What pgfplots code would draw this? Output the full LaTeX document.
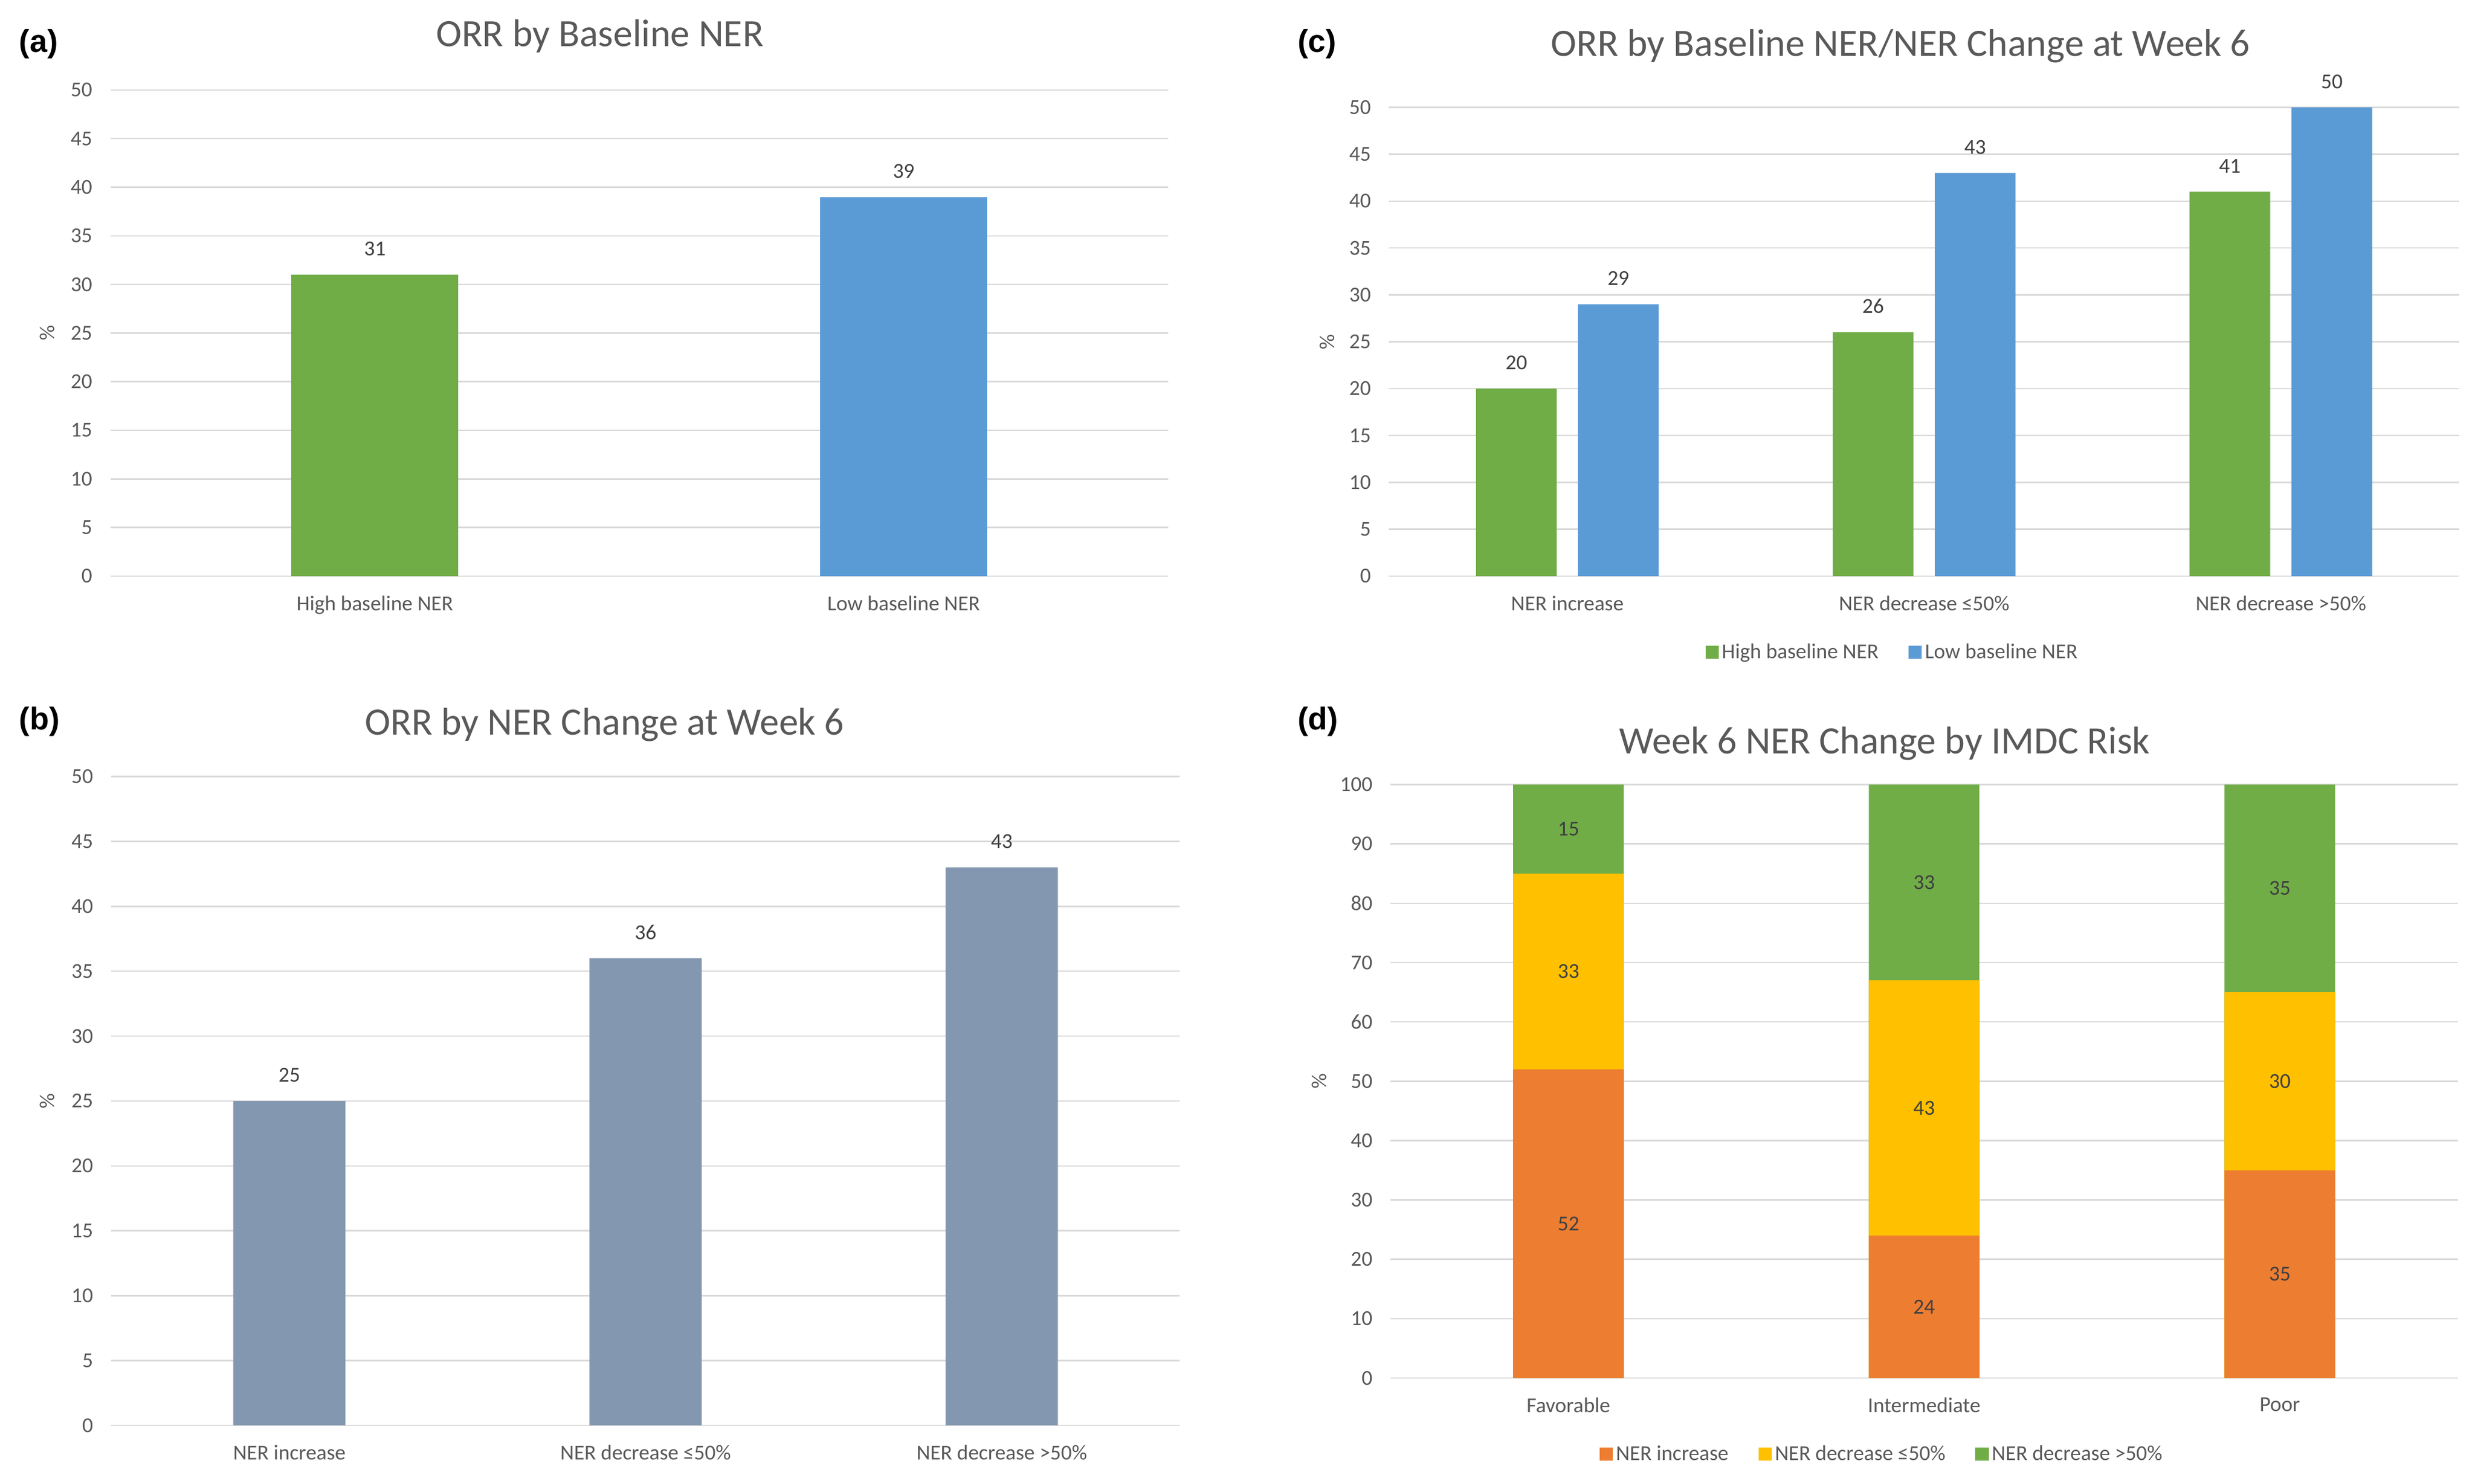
\documentclass[border=0pt]{standalone}
\usepackage{fontspec}
\setmainfont{Carlito}
\newfontfamily\letterfont{Liberation Sans}
\usepackage{pgfplots}
\pgfplotsset{compat=1.18}

\definecolor{cgreen}{HTML}{70AD47}
\definecolor{cblue}{HTML}{5B9BD5}
\definecolor{corange}{HTML}{ED7D31}
\definecolor{cyellow}{HTML}{FFC000}
\definecolor{cslate}{HTML}{8497B0}
\definecolor{gridgray}{HTML}{D9D9D9}
\definecolor{txtgray}{HTML}{595959}
\definecolor{lblgray}{HTML}{404040}

\newcommand\ticksize{\fontsize{13.5}{16}\selectfont}
\newcommand\titlesize{\fontsize{24.5}{29}\selectfont}

\pgfplotsset{
  panel/.style={
    scale only axis,
    anchor=south west,
    axis line style={draw=none},
    major tick length=0pt,
    ymajorgrids,
    grid style={draw=gridgray, line width=0.9pt},
    ymin=0,
    tick label style={font=\ticksize, text=txtgray},
    xticklabel style={yshift=-9pt},
    yticklabel style={xshift=-8pt},
    /pgf/number format/assume math mode=true,
    clip=false,
    ylabel={\%},
    ylabel style={font=\ticksize, text=txtgray, anchor=center},
  },
  vals/.style={
    nodes near coords,
    every node near coord/.append style={font=\ticksize, text=lblgray, anchor=base, yshift=12pt},
  },
  sq/.style={legend image code/.code={\fill[#1] (0pt,-4pt) rectangle (8pt,4pt);}},
  panellegend/.style={
    legend style={draw=none, fill=none, legend columns=-1, font=\ticksize, text=txtgray,
      /tikz/every even column/.append style={column sep=17pt}},
  },
}

\begin{document}
\begin{tikzpicture}[x=1pt,y=1pt]
\path[use as bounding box] (0,0) rectangle (1568,940);

% (a) ORR by baseline NER
\begin{axis}[panel, at={(70pt,575pt)}, width=670pt, height=308pt,
  ybar, bar width=0.316, ymax=50, ytick={0,5,...,50},
  xmin=-0.5, xmax=1.5, xtick={0,1},
  xticklabels={High baseline NER, Low baseline NER},
  ylabel style={at={(axis description cs:-0.06,0.5)}}]
\addplot[vals, fill=cgreen, draw=none, bar shift=0] coordinates {(0,31)};
\addplot[vals, fill=cblue, draw=none, bar shift=0] coordinates {(1,39)};
\end{axis}

% (b) ORR by NER change at week 6
\begin{axis}[panel, at={(70.5pt,37pt)}, width=677pt, height=411pt,
  ybar, bar width=0.315, ymax=50, ytick={0,5,...,50},
  xmin=-0.5, xmax=2.5, xtick={0,1,2},
  xticklabels={NER increase, NER decrease ≤50\%, NER decrease >50\%},
  ylabel style={at={(axis description cs:-0.06,0.5)}}]
\addplot[vals, fill=cslate, draw=none, bar shift=0] coordinates {(0,25)(1,36)(2,43)};
\end{axis}

% (c) ORR by baseline NER / NER change at week 6
\begin{axis}[panel, panellegend, at={(880pt,575pt)}, width=678pt, height=297pt,
  ybar, bar width=0.226, ymax=50, ytick={0,5,...,50},
  xmin=-0.5, xmax=2.5, xtick={0,1,2},
  xticklabels={NER increase, NER decrease ≤50\%, NER decrease >50\%},
  ylabel style={at={(axis description cs:-0.058,0.5)}},
  legend style={at={(axis description cs:0.471,-0.162)}, anchor=center}]
\addplot[vals, fill=cgreen, draw=none, bar shift=-0.143, forget plot] coordinates {(0,20)(1,26)(2,41)};
\addplot[vals, fill=cblue, draw=none, bar shift=0.143, forget plot] coordinates {(0,29)(1,43)(2,50)};
\addlegendimage{sq=cgreen}
\addlegendentry{High baseline NER}
\addlegendimage{sq=cblue}
\addlegendentry{Low baseline NER}
\end{axis}

% (d) Week 6 NER change by IMDC risk
\begin{axis}[panel, panellegend, at={(881pt,67pt)}, width=676pt, height=376pt,
  ymax=100, ytick={0,10,...,100},
  xmin=-0.5, xmax=2.5, xtick={0,1,2},
  xticklabels={Favorable, Intermediate, Poor},
  ylabel style={at={(axis description cs:-0.067,0.5)}},
  legend style={at={(axis description cs:0.461,-0.128)}, anchor=center}]
% stacked tops: increase, +decrease <=50%, +decrease >50%
\addplot[ybar, bar width=0.311, bar shift=0, fill=cgreen, draw=none, forget plot] coordinates {(0,100)(1,100)(2,100)};
\addplot[ybar, bar width=0.311, bar shift=0, fill=cyellow, draw=none, forget plot] coordinates {(0,85)(1,67)(2,65)};
\addplot[ybar, bar width=0.311, bar shift=0, fill=corange, draw=none, forget plot] coordinates {(0,52)(1,24)(2,35)};
\addplot[only marks, mark=none, forget plot, point meta=explicit symbolic, nodes near coords,
  every node near coord/.append style={font=\ticksize, text=lblgray, anchor=center}]
  coordinates {(0,26)[52] (0,68.5)[33] (0,92.5)[15]
               (1,12)[24] (1,45.5)[43] (1,83.5)[33]
               (2,17.5)[35] (2,50)[30] (2,82.5)[35]};
\addlegendimage{sq=corange}
\addlegendentry{NER increase}
\addlegendimage{sq=cyellow}
\addlegendentry{NER decrease ≤50\%}
\addlegendimage{sq=cgreen}
\addlegendentry{NER decrease >50\%}
\end{axis}

% titles and panel letters
\node[font=\titlesize, text=txtgray] at (380,917) {ORR by Baseline NER};
\node[font=\titlesize, text=txtgray] at (383,481) {ORR by NER Change at Week 6};
\node[font=\titlesize, text=txtgray] at (1204,911) {ORR by Baseline NER/NER Change at Week 6};
\node[font=\titlesize, text=txtgray] at (1194,469) {Week 6 NER Change by IMDC Risk};
\node[font=\letterfont\bfseries\fontsize{20}{24}\selectfont, anchor=west, inner sep=0pt] at (12,912) {(a)};
\node[font=\letterfont\bfseries\fontsize{20}{24}\selectfont, anchor=west, inner sep=0pt] at (12,483) {(b)};
\node[font=\letterfont\bfseries\fontsize{20}{24}\selectfont, anchor=west, inner sep=0pt] at (822,912) {(c)};
\node[font=\letterfont\bfseries\fontsize{20}{24}\selectfont, anchor=west, inner sep=0pt] at (822,483) {(d)};
\end{tikzpicture}
\end{document}
